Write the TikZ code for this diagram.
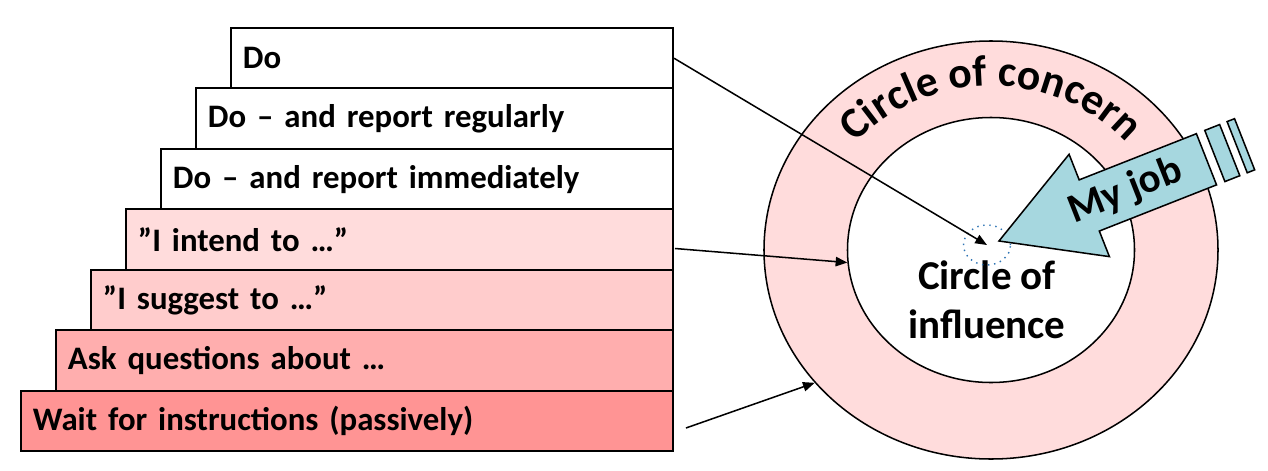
\documentclass[tikz,border=0pt]{standalone}
\usepackage{fontspec}
\setmainfont{Carlito}
\usetikzlibrary{shapes.geometric,arrows.meta,decorations.text}
\definecolor{intendred}{HTML}{FFDCDC}
\definecolor{suggestred}{HTML}{FFCCCC}
\definecolor{askred}{HTML}{FFAEAE}
\definecolor{waitred}{HTML}{FF9494}
\definecolor{concernred}{HTML}{FFDCDC}
\definecolor{jobblue}{HTML}{A6D7DF}
\definecolor{focusblue}{HTML}{2E74B5}
\newcommand{\stairfont}{\fontsize{14}{17}\selectfont\bfseries}
\newcommand{\ringfont}{\fontsize{17.5}{21}\selectfont\bfseries}
\newcommand{\concernfont}{\fontsize{18.6}{22}\selectfont\bfseries}
\begin{document}
\begin{tikzpicture}[scale=0.15]
	\tikzstyle{every node}+=[inner sep=0pt]
	\tikzstyle{stair}=[draw=black, line width=0.85pt, anchor=east, minimum height=0.906cm, inner xsep=0.18cm, align=left, font=\stairfont]
	\tikzstyle{ring}=[ellipse, draw=black, line width=0.65pt]
	\tikzstyle{conn}=[black, line width=0.65pt, -{Triangle[length=5pt,width=4pt]}]
	\useasboundingbox (0,0) rectangle (126.8,-47.1);
	% the stairs
	\node [stair, fill=white, text width=6.27cm] (do) at (67.4,-5.82) {Do};
	\node [stair, fill=white, text width=6.795cm] (regular) at (67.4,-11.86) {Do – and report regularly};
	\node [stair, fill=white, text width=7.32cm] (immediate) at (67.4,-17.91) {Do – and report immediately};
	\node [stair, fill=intendred, text width=7.845cm] (intend) at (67.4,-23.95) {”I intend to …”};
	\node [stair, fill=suggestred, text width=8.37cm] (suggest) at (67.4,-29.99) {”I suggest to …”};
	\node [stair, fill=askred, text width=8.895cm] (ask) at (67.4,-36.04) {Ask questions about …};
	\node [stair, fill=waitred, text width=9.42cm] (wait) at (67.4,-42.08) {Wait for instructions (passively)};
	% the circles
	\node [ring, fill=concernred, minimum width=6.81cm, minimum height=6.27cm] (concern) at (99.1,-25.0) {};
	\node [ring, fill=white, minimum width=4.305cm, minimum height=3.975cm] (influence) at (99.1,-25.0) {};
	\path [decorate, decoration={text along path, text={|\concernfont|Circle of concern}, text align=center}] (99.1,-25.0) ++(180:17.8 and 16.4) arc [start angle=180, end angle=0, x radius=17.8, y radius=16.4];
	\node [font=\ringfont, align=center] (influencetext) at (98.7,-30.0) {Circle of\\influence};
	\node [ellipse, draw=focusblue, dotted, line width=0.6pt, minimum width=0.705cm, minimum height=0.6cm] (focus) at (98.7,-24.5) {};
	% my job
	\begin{scope}[shift={(99.9,-24.1)}, rotate=21.5]
		\draw [black, line width=0.65pt, fill=jobblue] (0,0) -- (9.7,5.5) -- (9.7,2.75) -- (22.3,2.75) -- (22.3,-2.75) -- (9.7,-2.75) -- (9.7,-5.5) -- cycle;
		\draw [black, line width=0.65pt, fill=jobblue] (23.2,2.75) rectangle (24.8,-2.75);
		\draw [black, line width=0.65pt, fill=jobblue] (25.6,2.75) rectangle (26.4,-2.75);
		\node [rotate=21.5, font=\ringfont] (myjob) at (13.6,0) {My job};
	\end{scope}
	% arrows
	\coordinate (intendout) at (67.5,-24.85);
	\coordinate (waitout) at (68.6,-42.8);
	\draw [conn] (do.east) -- (focus.center);
	\draw [conn] (intendout) -- (influence.185);
	\draw [conn] (waitout) -- (concern.217);
\end{tikzpicture}
\end{document}
